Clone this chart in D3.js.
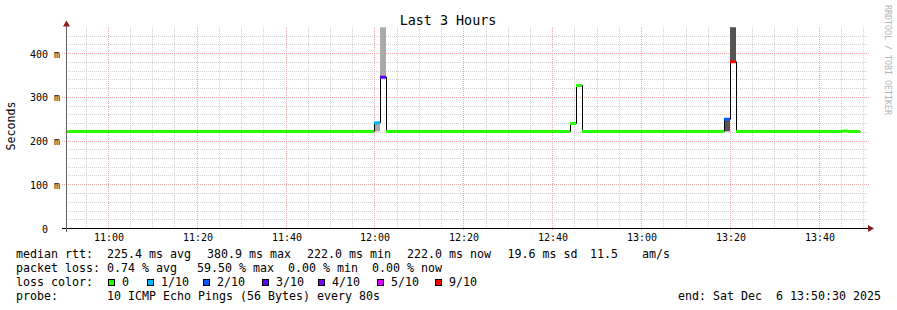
<!DOCTYPE html>
<html>
<head>
<meta charset="utf-8">
<script src="https://cdn.jsdelivr.net/npm/d3@7"></script>
<style>
  body { margin: 0; background: #fff; }
  svg { display: block; }
  text { font-family: "DejaVu Sans Mono", monospace; fill: #000; white-space: pre; }
</style>
</head>
<body>
<div id="chart"></div>
<script>
// ---- data ----
var chartTitle = "Last 3 Hours";
var startTime = new Date(2025, 11, 6, 10, 50, 30);
var endTime = new Date(2025, 11, 6, 13, 50, 30);
var stepSeconds = 80;

// median rtt per 80s step (ms), 134 steps
var medianMs = [
  222, 222, 222, 222, 222, 222, 222, 222, 222, 222, 222, 222, 222, 222, 222, 222, 222, 222, 222, 222,
  222, 222, 222, 222, 222, 222, 222, 222, 222, 222, 222, 222, 222, 222, 222, 222, 222, 222, 222, 222,
  222, 222, 222, 222, 222, 222, 222, 222, 222, 222, 222, 222, 242, 346, 222, 222, 222, 222, 222, 222,
  222, 222, 222, 222, 222, 222, 222, 222, 222, 222, 222, 222, 222, 222, 222, 222, 222, 222, 222, 222,
  222, 222, 222, 222, 222, 240, 327, 222, 222, 222, 222, 222, 222, 222, 222, 222, 222, 222, 222, 222,
  222, 222, 222, 222, 222, 222, 222, 222, 222, 222, 222, 250, 380.9, 222, 222, 222, 222, 222, 222, 222,
  222, 222, 222, 222, 222, 222, 222, 222, 222, 222, 222, 223, 222, 222
];

// lost pings out of 10 per step
var lossOf10 = [
  0, 0, 0, 0, 0, 0, 0, 0, 0, 0, 0, 0, 0, 0, 0, 0, 0, 0, 0, 0,
  0, 0, 0, 0, 0, 0, 0, 0, 0, 0, 0, 0, 0, 0, 0, 0, 0, 0, 0, 0,
  0, 0, 0, 0, 0, 0, 0, 0, 0, 0, 0, 0, 1, 3, 0, 0, 0, 0, 0, 0,
  0, 0, 0, 0, 0, 0, 0, 0, 0, 0, 0, 0, 0, 0, 0, 0, 0, 0, 0, 0,
  0, 0, 0, 0, 0, 0, 0, 0, 0, 0, 0, 0, 0, 0, 0, 0, 0, 0, 0, 0,
  0, 0, 0, 0, 0, 0, 0, 0, 0, 0, 0, 2, 6, 0, 0, 0, 0, 0, 0, 0,
  0, 0, 0, 0, 0, 0, 0, 0, 0, 0, 0, 0, 0, 0
];

// visible smoke (ping spread) per step, ms
var smokeSteps = [52, 53, 111, 112];
var smokeLoMs = [222, 346, 222, 380.9];
var smokeHiMs = [242, 470, 250, 470];
var smokeLayer = [1, 1, 2, 2];

var yTicks = [0, 0.1, 0.2, 0.3, 0.4];
var yTickLabels = ["0  ", "100 m", "200 m", "300 m", "400 m"];

var lossLabels = ["0", "1/10", "2/10", "3/10", "4/10", "5/10", "9/10"];
var lossColors = ["#26ff00", "#00b8ff", "#0059ff", "#5e00ff", "#7e00ff", "#dd00ff", "#ff0000"];

var rttStats = ["225.4 ms avg", "380.9 ms max", "222.0 ms min", "222.0 ms now", "19.6 ms sd", "11.5", "am/s"];
var lossStats = ["0.74 % avg", "59.50 % max", "0.00 % min", "0.00 % now"];
var probeText = "10 ICMP Echo Pings (56 Bytes) every 80s";
var endText = "end: Sat Dec  6 13:50:30 2025";

// ---- layout ----
var W = 897, H = 310;
var rttX = [107, 207, 307, 407, 507.5, 590, 642];
var lossX = [107, 197, 288, 372];
var boxX = [108, 147, 203, 262, 318, 377, 435];

var svg = d3.select("#chart").append("svg")
  .attr("width", W).attr("height", H);

svg.append("rect").attr("width", W).attr("height", H).attr("fill", "#fff");

var x = d3.scaleTime().domain([startTime, endTime]).range([66, 866]);
var y = d3.scaleLinear().domain([0, 0.46]).range([228.5, 27.25]);
var lossColor = d3.scaleThreshold().domain([0.5, 1.5, 2.5, 3.5, 4.5, 5.5]).range(lossColors);
var smokeColor = d3.scaleOrdinal().domain([1, 2]).range(["#aaaaaa", "#555555"]);

function stepTime(k) { return d3.timeSecond.offset(startTime, k * stepSeconds); }
function px(t) { return Math.round(x(t)) + 0.5; }      // snap data edges to pixel
function gx(t) { return Math.floor(x(t)) + 0.5; }      // grid position

// ---- grid ----
var grid = svg.append("g").attr("class", "grid");
var majorT = d3.timeMinute.every(20).range(startTime, endTime);
var minorT = d3.timeMinute.every(5).range(startTime, endTime)
  .filter(function (t) { return t.getMinutes() % 20 !== 0; });
var minorY = y.ticks(23).filter(function (d) {
  return d > 0.001 && d < 0.45 && Math.abs(d * 10 - Math.round(d * 10)) > 1e-6;
});
var majorY = yTicks.filter(function (d) { return d > 0; });

grid.selectAll(".minorV").data(minorT).enter().append("line")
  .attr("x1", gx).attr("x2", gx).attr("y1", 27).attr("y2", 228)
  .attr("stroke", "#d2d2d2").attr("stroke-dasharray", "1,1");
grid.selectAll(".minorH").data(minorY).enter().append("line")
  .attr("x1", 66).attr("x2", 867)
  .attr("y1", function (d) { return Math.floor(y(d)) + 0.5; })
  .attr("y2", function (d) { return Math.floor(y(d)) + 0.5; })
  .attr("stroke", "#d2d2d2").attr("stroke-dasharray", "1,1");
grid.selectAll(".majorV").data(majorT).enter().append("line")
  .attr("x1", gx).attr("x2", gx).attr("y1", 27).attr("y2", 230)
  .attr("stroke", "#efa8a8").attr("stroke-dasharray", "1,1");
grid.selectAll(".majorH").data(majorY).enter().append("line")
  .attr("x1", 62).attr("x2", 869)
  .attr("y1", function (d) { return Math.floor(y(d)) + 0.5; })
  .attr("y2", function (d) { return Math.floor(y(d)) + 0.5; })
  .attr("stroke", "#efa8a8").attr("stroke-dasharray", "1,1");

// ---- data ----
svg.append("clipPath").attr("id", "plotclip")
  .append("rect").attr("x", 66).attr("y", 27.25).attr("width", 800).attr("height", 201.25);
var plot = svg.append("g").attr("clip-path", "url(#plotclip)");

plot.selectAll(".smoke").data(smokeSteps).enter().append("rect")
  .attr("x", function (k) { return px(stepTime(k)) - 0.5; })
  .attr("width", function (k) { return px(stepTime(k + 1)) - px(stepTime(k)); })
  .attr("y", function (k, i) { return y(smokeHiMs[i] / 1000); })
  .attr("height", function (k, i) { return y(smokeLoMs[i] / 1000) - y(smokeHiMs[i] / 1000); })
  .attr("fill", function (k, i) { return smokeColor(smokeLayer[i]); });

// median as thin black step line
var pts = medianMs.map(function (v, k) { return [stepTime(k), v / 1000]; });
pts.push([stepTime(medianMs.length), medianMs[medianMs.length - 1] / 1000]);
var medianLine = d3.line()
  .x(function (d) { return px(d[0]); })
  .y(function (d) { return y(d[1]); })
  .curve(d3.curveStepAfter);
plot.append("path").datum(pts)
  .attr("d", medianLine)
  .attr("fill", "none").attr("stroke", "#000").attr("stroke-width", 1);

// loss-coloured median segments
plot.selectAll(".seg").data(medianMs).enter().append("line")
  .attr("x1", function (v, k) { return px(stepTime(k)) - 0.5; })
  .attr("x2", function (v, k) { return px(stepTime(k + 1)) - 0.5; })
  .attr("y1", function (v) { return y(v / 1000); })
  .attr("y2", function (v) { return y(v / 1000); })
  .attr("stroke", function (v, k) { return lossColor(lossOf10[k]); })
  .attr("stroke-width", 3);

// ---- axes ----
svg.append("line").attr("x1", 62).attr("x2", 869).attr("y1", 228.5).attr("y2", 228.5)
  .attr("stroke", "#000");
svg.append("line").attr("x1", 66.5).attr("x2", 66.5).attr("y1", 232).attr("y2", 24)
  .attr("stroke", "#666");
svg.append("path").attr("d", "M63,26.5L66.5,20.5L70,26.5Z").attr("fill", "#8b1c1c");
svg.append("path").attr("d", "M868,225L874,228.5L868,232Z").attr("fill", "#8b1c1c");

var xAxis = d3.axisBottom(x).tickValues(majorT).tickFormat(d3.timeFormat("%H:%M")).tickSize(0);
var gX = svg.append("g").attr("transform", "translate(0,228.5)").call(xAxis);
gX.select(".domain").remove();
gX.selectAll("text").attr("y", 12.3).attr("dy", 0)
  .attr("x", function (d) { return gx(d) - x(d); })
  .style("font-family", "'DejaVu Sans Mono', monospace").style("font-size", "10px").attr("fill", "#000");

var yAxis = d3.axisLeft(y).tickValues(yTicks)
  .tickFormat(function (d, i) { return yTickLabels[i]; }).tickSize(0).tickPadding(0);
var gY = svg.append("g").attr("transform", "translate(60,0)").call(yAxis);
gY.select(".domain").remove();
gY.selectAll("text").attr("dy", 3.6).attr("x", 0)
  .attr("xml:space", "preserve")
  .style("font-family", "'DejaVu Sans Mono', monospace").style("font-size", "10px").attr("fill", "#000");

// ---- titles ----
svg.append("text").attr("x", 448).attr("y", 25).attr("text-anchor", "middle")
  .style("font-size", "13.4px").text(chartTitle);
svg.append("text").attr("transform", "translate(15,126) rotate(-90)").attr("text-anchor", "middle")
  .style("font-size", "11.6px").text("Seconds");
svg.append("text").attr("transform", "translate(885,5) rotate(90)")
  .style("font-size", "8.3px").style("fill", "#b4b4b4").text("RRDTOOL / TOBI OETIKER");

// ---- legend ----
var lg = svg.append("g").style("font-size", "11.63px");
function legendText(xp, yp, s) {
  return lg.append("text").attr("xml:space", "preserve")
    .attr("x", xp).attr("y", yp).text(s);
}
legendText(16, 258, "median rtt:");
rttStats.forEach(function (s, i) { legendText(rttX[i], 258, s); });

legendText(16, 272, "packet loss:");
lossStats.forEach(function (s, i) { legendText(lossX[i], 272, s); });

legendText(16, 286, "loss color:");
lg.selectAll(".lbox").data(lossLabels).enter().append("rect")
  .attr("x", function (d, i) { return boxX[i] + 0.5; }).attr("y", 279.5)
  .attr("width", 6).attr("height", 6)
  .attr("fill", function (d, i) { return lossColors[i]; })
  .attr("stroke", "#000").attr("stroke-width", 1);
lossLabels.forEach(function (s, i) { legendText(boxX[i] + 14, 286, s); });

legendText(16, 300, "probe:");
legendText(107, 300, probeText);
legendText(678, 300, endText);
</script>
</body>
</html>
